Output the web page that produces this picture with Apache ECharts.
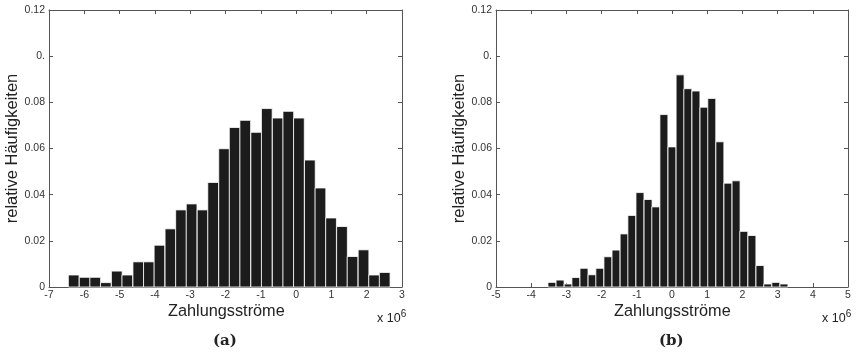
<!DOCTYPE html>
<html>
<head>
<meta charset="utf-8">
<script src="https://cdn.jsdelivr.net/npm/echarts@6/dist/echarts.min.js"></script>
<style>
  html, body { margin: 0; padding: 0; background: #fff; }
  #chart { width: 859px; height: 353px; }
</style>
</head>
<body>
<div id="chart"></div>
<script>
//--------------------- Data ---------------------------//
// (a) bin centres (x 10^6) and relative frequencies
const binCentersA = [-6.30, -5.99, -5.69, -5.39, -5.08, -4.78, -4.47, -4.17, -3.87, -3.56,
  -3.26, -2.96, -2.65, -2.35, -2.04, -1.74, -1.44, -1.13, -0.83, -0.52,
  -0.22, 0.08, 0.39, 0.69, 0.99, 1.30, 1.60, 1.91, 2.21, 2.51];
const freqA = [0.0052, 0.0042, 0.0042, 0.0019, 0.0069, 0.0052, 0.0109, 0.0109, 0.0181, 0.0252,
  0.0334, 0.0360, 0.0334, 0.0453, 0.0599, 0.0691, 0.0722, 0.0670, 0.0773, 0.0732,
  0.0761, 0.0732, 0.0550, 0.0429, 0.0299, 0.0262, 0.0132, 0.0161, 0.0052, 0.0063];
const binWidthA = 0.304;

// (b) bin centres (x 10^6) and relative frequencies
const binCentersB = [-3.41, -3.18, -2.95, -2.73, -2.50, -2.27, -2.05, -1.82, -1.59, -1.36,
  -1.14, -0.91, -0.68, -0.46, -0.23, 0.00, 0.23, 0.45, 0.68, 0.91,
  1.13, 1.36, 1.59, 1.82, 2.04, 2.27, 2.50, 2.72, 2.95, 3.18];
const freqB = [0.0020, 0.0030, 0.0013, 0.0041, 0.0081, 0.0053, 0.0081, 0.0131, 0.0160, 0.0230,
  0.0310, 0.0409, 0.0379, 0.0347, 0.0747, 0.0607, 0.0919, 0.0859, 0.0849, 0.0779,
  0.0817, 0.0629, 0.0450, 0.0460, 0.0241, 0.0223, 0.0093, 0.0013, 0.0020, 0.0013];
const binWidthB = 0.227;

// tick labels as printed in the figure
const yTickLabels = ['0', '0.02', '0.04', '0.06', '0.08', '0.', '0.12'];
const xRangeA = [-7, 3];
const xRangeB = [-5, 5];
const xName = 'Zahlungsströme';
const yName = 'relative Häufigkeiten';
const panelLabels = ['(a)', '(b)'];

//--------------------- Helpers ---------------------------//
const font = 'Liberation Sans, Arial, Helvetica, sans-serif';
const lineColor = '#555';
const tickLabel = { color: '#333', fontSize: 10.5, fontFamily: font };

function bottomAxis(grid, range) {
  return {
    type: 'value', gridIndex: grid, position: 'bottom',
    min: range[0], max: range[1], interval: 1,
    axisLine: { onZero: false, lineStyle: { color: lineColor } },
    axisTick: { inside: true, length: 4, lineStyle: { color: lineColor } },
    axisLabel: Object.assign({ margin: 3 }, tickLabel),
    splitLine: { show: false }
  };
}
function topAxis(grid, range) {
  return {
    type: 'value', gridIndex: grid, position: 'top',
    min: range[0], max: range[1], interval: 1,
    axisLine: { onZero: false, lineStyle: { color: lineColor } },
    axisTick: { inside: true, length: 4, lineStyle: { color: lineColor } },
    axisLabel: { show: false },
    splitLine: { show: false }
  };
}
function leftAxis(grid, gap) {
  return {
    type: 'value', gridIndex: grid, position: 'left',
    min: 0, max: 0.12, interval: 0.02,
    name: yName, nameLocation: 'middle', nameRotate: 90, nameGap: gap,
    nameTextStyle: { color: '#222', fontSize: 16.5, fontFamily: font },
    axisLine: { onZero: false, lineStyle: { color: lineColor } },
    axisTick: { inside: true, length: 4, lineStyle: { color: lineColor } },
    axisLabel: Object.assign({
      margin: 4,
      formatter: v => yTickLabels[Math.round(v / 0.02)]
    }, tickLabel),
    splitLine: { show: false }
  };
}
function rightAxis(grid) {
  return {
    type: 'value', gridIndex: grid, position: 'right',
    min: 0, max: 0.12, interval: 0.02,
    axisLine: { onZero: false, lineStyle: { color: lineColor } },
    axisTick: { inside: true, length: 4, lineStyle: { color: lineColor } },
    axisLabel: { show: false },
    splitLine: { show: false }
  };
}

// Draw histogram bars from bin centre +- half bin width
function barRenderer(binWidth) {
  return function (params, api) {
    const c = api.value(0);
    const h = api.value(1);
    const p0 = api.coord([c - binWidth / 2, h]);
    const p1 = api.coord([c + binWidth / 2, 0]);
    return {
      type: 'rect',
      shape: { x: p0[0], y: p0[1], width: p1[0] - p0[0], height: p1[1] - p0[1] },
      style: { fill: '#1c1c1c', stroke: '#fff', lineWidth: 0.8 }
    };
  };
}

function textEl(left, top, text, size, family, weight) {
  return {
    type: 'text', left: left, top: top,
    style: { text: text, fill: '#222', fontSize: size, fontFamily: family, fontWeight: weight || 'normal' }
  };
}
function expEl(left, top) {
  return {
    type: 'text', left: left, top: top,
    style: {
      text: 'x 10{s|6}', fill: '#222', fontSize: 12.5, fontFamily: font,
      rich: { s: { fontSize: 10, fontFamily: font, fill: '#222', verticalAlign: 'bottom', padding: [0, 0, 9, 0] } }
    }
  };
}

//--------------------- Chart ---------------------------//
const chart = echarts.init(document.getElementById('chart'));
const option = {
  animation: false,
  grid: [
    { left: 49, top: 10, width: 353, height: 277 },
    { left: 496, top: 10, width: 352, height: 277 }
  ],
  xAxis: [bottomAxis(0, xRangeA), topAxis(0, xRangeA), bottomAxis(1, xRangeB), topAxis(1, xRangeB)],
  yAxis: [leftAxis(0, 26), rightAxis(0), leftAxis(1, 27), rightAxis(1)],
  series: [
    {
      type: 'custom', xAxisIndex: 0, yAxisIndex: 0,
      renderItem: barRenderer(binWidthA),
      encode: { x: 0, y: 1 },
      data: binCentersA.map((c, i) => [c, freqA[i]])
    },
    {
      type: 'custom', xAxisIndex: 2, yAxisIndex: 2,
      renderItem: barRenderer(binWidthB),
      encode: { x: 0, y: 1 },
      data: binCentersB.map((c, i) => [c, freqB[i]])
    }
  ],
  graphic: [
    textEl(168, 304, xName, 16.3, font),
    textEl(614, 304, xName, 16.3, font),
    expEl(377, 309),
    expEl(822, 309),
    textEl(213, 334, panelLabels[0], 15, 'DejaVu Serif, Liberation Serif, serif', 'bold'),
    textEl(659, 334, panelLabels[1], 15, 'DejaVu Serif, Liberation Serif, serif', 'bold')
  ]
};
chart.setOption(option);
</script>
</body>
</html>
